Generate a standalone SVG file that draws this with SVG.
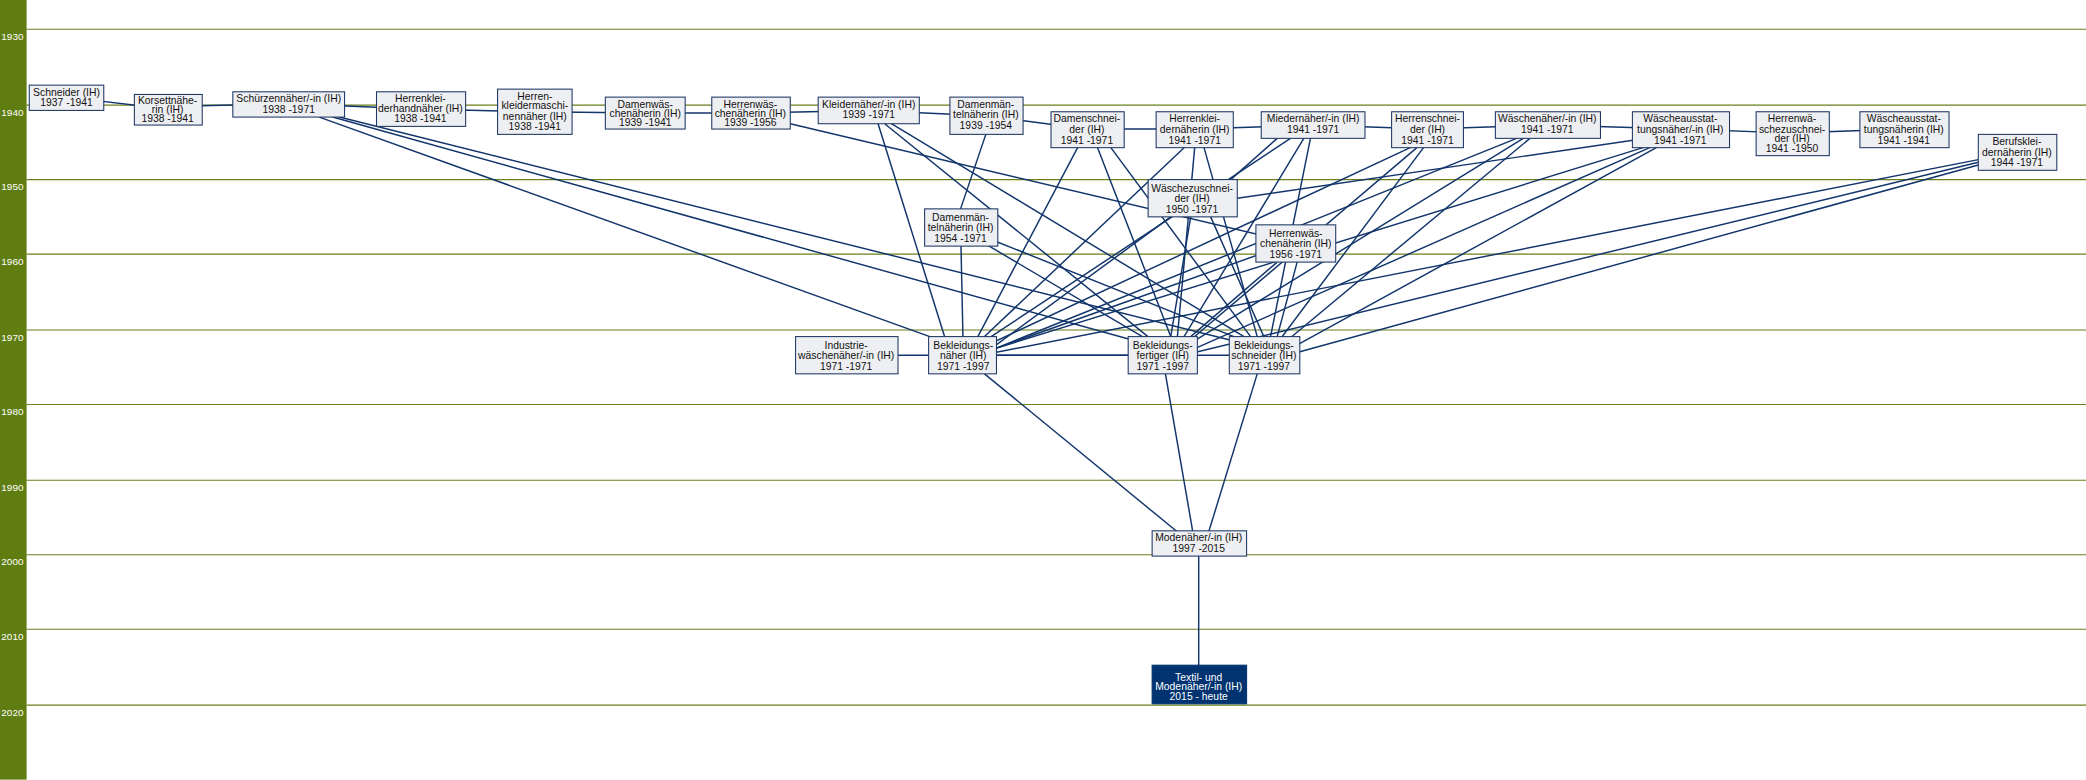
<svg xmlns="http://www.w3.org/2000/svg" width="2086" height="780" viewBox="0 0 2086 780">
<style>
.grid{stroke:#6b7f1a;stroke-width:0.8}
.yr{fill:#fff;font:7.5px "Liberation Sans",Arial,sans-serif}
.n rect{fill:#eeeff2;stroke:#1f3864;stroke-width:0.8}
.n text{fill:#111;font:7.8px "Liberation Sans",Arial,sans-serif;text-anchor:middle}
.d rect{fill:#003370;stroke:#003370}
.d text{fill:#fff}
#edges line{stroke:#12356b;stroke-width:1.1}
</style>
<rect width="2086" height="780" fill="#fff"/>
<g transform="scale(1.3304)">
<g id="axis">
<rect x="0" y="0" width="20" height="586" fill="#5f7d10"/>
<line class="grid" x1="20" y1="22" x2="1568" y2="22"/><line class="grid" x1="20" y1="79" x2="1568" y2="79"/>
<line class="grid" x1="20" y1="135" x2="1568" y2="135"/><line class="grid" x1="20" y1="191" x2="1568" y2="191"/>
<line class="grid" x1="20" y1="248" x2="1568" y2="248"/><line class="grid" x1="20" y1="304" x2="1568" y2="304"/>
<line class="grid" x1="20" y1="361" x2="1568" y2="361"/><line class="grid" x1="20" y1="417" x2="1568" y2="417"/>
<line class="grid" x1="20" y1="473" x2="1568" y2="473"/><line class="grid" x1="20" y1="530" x2="1568" y2="530"/>
<text class="yr" x="1" y="30">1930</text><text class="yr" x="1" y="87">1940</text><text class="yr" x="1" y="143">1950</text>
<text class="yr" x="1" y="199">1960</text><text class="yr" x="1" y="256">1970</text><text class="yr" x="1" y="312">1980</text>
<text class="yr" x="1" y="369">1990</text><text class="yr" x="1" y="425">2000</text><text class="yr" x="1" y="481">2010</text>
<text class="yr" x="1" y="538">2020</text>
</g>
<g id="edges">
<line x1="50" y1="73" x2="126" y2="82"/><line x1="126" y1="80" x2="217" y2="78"/><line x1="217" y1="78" x2="316" y2="82"/>
<line x1="316" y1="82" x2="402" y2="84"/><line x1="402" y1="84" x2="485" y2="85"/><line x1="485" y1="85" x2="564" y2="85"/>
<line x1="564" y1="85" x2="653" y2="83"/><line x1="653" y1="83" x2="741" y2="87"/><line x1="741" y1="87" x2="817" y2="97"/>
<line x1="817" y1="97" x2="898" y2="97"/><line x1="898" y1="97" x2="987" y2="94"/><line x1="987" y1="94" x2="1073" y2="97"/>
<line x1="1073" y1="97" x2="1163" y2="94"/><line x1="1163" y1="94" x2="1263" y2="97"/><line x1="1263" y1="97" x2="1347" y2="100"/>
<line x1="1347" y1="100" x2="1431" y2="97"/>
<line x1="240" y1="88" x2="724" y2="262"/><line x1="250" y1="88" x2="874" y2="262"/><line x1="255" y1="88" x2="950" y2="262"/>
<line x1="594" y1="93" x2="974" y2="183"/>
<line x1="660" y1="93" x2="710" y2="253"/><line x1="665" y1="93" x2="874" y2="262"/><line x1="670" y1="93" x2="950" y2="262"/>
<line x1="741" y1="101" x2="722" y2="157"/>
<line x1="722" y1="170" x2="724" y2="262"/><line x1="735" y1="180" x2="874" y2="262"/><line x1="745" y1="180" x2="950" y2="262"/>
<line x1="810" y1="111" x2="735" y2="253"/><line x1="825" y1="111" x2="880" y2="253"/><line x1="835" y1="111" x2="940" y2="253"/>
<line x1="890" y1="111" x2="740" y2="253"/><line x1="898" y1="111" x2="885" y2="253"/><line x1="905" y1="111" x2="945" y2="253"/>
<line x1="970" y1="104" x2="745" y2="253"/><line x1="980" y1="104" x2="890" y2="253"/><line x1="985" y1="104" x2="955" y2="253"/><line x1="960" y1="104" x2="925" y2="135"/>
<line x1="1060" y1="111" x2="745" y2="258"/><line x1="1065" y1="111" x2="892" y2="258"/><line x1="1070" y1="111" x2="960" y2="258"/>
<line x1="1140" y1="104" x2="748" y2="262"/><line x1="1145" y1="104" x2="895" y2="258"/><line x1="1150" y1="104" x2="965" y2="258"/>
<line x1="1235" y1="111" x2="748" y2="262"/><line x1="1240" y1="111" x2="898" y2="262"/><line x1="1245" y1="111" x2="970" y2="262"/><line x1="1230" y1="105" x2="930" y2="149"/>
<line x1="1487" y1="120" x2="748" y2="265"/><line x1="1487" y1="122" x2="898" y2="265"/><line x1="1487" y1="124" x2="975" y2="265"/>
<line x1="880" y1="163" x2="745" y2="262"/><line x1="895" y1="163" x2="880" y2="253"/><line x1="910" y1="163" x2="950" y2="253"/>
<line x1="950" y1="190" x2="748" y2="262"/><line x1="960" y1="197" x2="895" y2="253"/><line x1="975" y1="197" x2="960" y2="253"/>
<line x1="636" y1="267" x2="724" y2="267"/>
<line x1="724" y1="267" x2="874" y2="267"/><line x1="724" y1="267" x2="950" y2="267"/>
<line x1="740" y1="281" x2="895" y2="408"/><line x1="876" y1="281" x2="898" y2="408"/><line x1="945" y1="281" x2="906" y2="408"/>
<line x1="901" y1="408" x2="901" y2="514"/>
</g>
<g id="n1" class="n"><rect x="22" y="64" width="56" height="19"/><text x="50" y="72">Schneider (IH)</text><text x="50" y="80">1937 -1941</text></g>
<g id="n2" class="n"><rect x="101" y="71" width="51" height="23"/><text x="126" y="78">Korsettnähe-</text><text x="126" y="85">rin (IH)</text><text x="126" y="92">1938 -1941</text></g>
<g id="n3" class="n"><rect x="175" y="69" width="84" height="19"/><text x="217" y="77">Schürzennäher/-in (IH)</text><text x="217" y="85">1938 -1971</text></g>
<g id="n4" class="n"><rect x="283" y="69" width="67" height="26"/><text x="316" y="77">Herrenklei-</text><text x="316" y="84">derhandnäher (IH)</text><text x="316" y="92">1938 -1941</text></g>
<g id="n5" class="n"><rect x="374" y="67" width="56" height="34"/><text x="402" y="75">Herren-</text><text x="402" y="82">kleidermaschi-</text><text x="402" y="90">nennäher (IH)</text><text x="402" y="98">1938 -1941</text></g>
<g id="n6" class="n"><rect x="455" y="73" width="60" height="24"/><text x="485" y="81">Damenwäs-</text><text x="485" y="88">chenäherin (IH)</text><text x="485" y="95">1939 -1941</text></g>
<g id="n7" class="n"><rect x="535" y="73" width="59" height="24"/><text x="564" y="81">Herrenwäs-</text><text x="564" y="88">chenäherin (IH)</text><text x="564" y="95">1939 -1956</text></g>
<g id="n8" class="n"><rect x="615" y="73" width="76" height="20"/><text x="653" y="81">Kleidernäher/-in (IH)</text><text x="653" y="89">1939 -1971</text></g>
<g id="n9" class="n"><rect x="714" y="73" width="55" height="28"/><text x="741" y="81">Damenmän-</text><text x="741" y="89">telnäherin (IH)</text><text x="741" y="97">1939 -1954</text></g>
<g id="n10" class="n"><rect x="790" y="84" width="55" height="27"/><text x="817" y="92">Damenschnei-</text><text x="817" y="100">der (IH)</text><text x="817" y="108">1941 -1971</text></g>
<g id="n11" class="n"><rect x="869" y="84" width="58" height="27"/><text x="898" y="92">Herrenklei-</text><text x="898" y="100">dernäherin (IH)</text><text x="898" y="108">1941 -1971</text></g>
<g id="n12" class="n"><rect x="948" y="84" width="78" height="20"/><text x="987" y="92">Miedernäher/-in (IH)</text><text x="987" y="100">1941 -1971</text></g>
<g id="n13" class="n"><rect x="1046" y="84" width="54" height="27"/><text x="1073" y="92">Herrenschnei-</text><text x="1073" y="100">der (IH)</text><text x="1073" y="108">1941 -1971</text></g>
<g id="n14" class="n"><rect x="1124" y="84" width="79" height="20"/><text x="1163" y="92">Wäschenäher/-in (IH)</text><text x="1163" y="100">1941 -1971</text></g>
<g id="n15" class="n"><rect x="1227" y="84" width="73" height="27"/><text x="1263" y="92">Wäscheausstat-</text><text x="1263" y="100">tungsnäher/-in (IH)</text><text x="1263" y="108">1941 -1971</text></g>
<g id="n16" class="n"><rect x="1320" y="84" width="55" height="33"/><text x="1347" y="92">Herrenwä-</text><text x="1347" y="100">schezuschnei-</text><text x="1347" y="107">der (IH)</text><text x="1347" y="114">1941 -1950</text></g>
<g id="n17" class="n"><rect x="1398" y="84" width="67" height="27"/><text x="1431" y="92">Wäscheausstat-</text><text x="1431" y="100">tungsnäherin (IH)</text><text x="1431" y="108">1941 -1941</text></g>
<g id="n18" class="n"><rect x="1487" y="101" width="59" height="27"/><text x="1516" y="109">Berufsklei-</text><text x="1516" y="117">dernäherin (IH)</text><text x="1516" y="125">1944 -1971</text></g>
<g id="n19" class="n"><rect x="863" y="135" width="67" height="28"/><text x="896" y="144">Wäschezuschnei-</text><text x="896" y="152">der (IH)</text><text x="896" y="160">1950 -1971</text></g>
<g id="n20" class="n"><rect x="695" y="157" width="55" height="28"/><text x="722" y="166">Damenmän-</text><text x="722" y="174">telnäherin (IH)</text><text x="722" y="182">1954 -1971</text></g>
<g id="n21" class="n"><rect x="944" y="169" width="60" height="28"/><text x="974" y="178">Herrenwäs-</text><text x="974" y="186">chenäherin (IH)</text><text x="974" y="194">1956 -1971</text></g>
<g id="n22" class="n"><rect x="598" y="253" width="77" height="28"/><text x="636" y="262">Industrie-</text><text x="636" y="270">wäschenäher/-in (IH)</text><text x="636" y="278">1971 -1971</text></g>
<g id="n23" class="n"><rect x="698" y="253" width="51" height="28"/><text x="724" y="262">Bekleidungs-</text><text x="724" y="270">näher (IH)</text><text x="724" y="278">1971 -1997</text></g>
<g id="n24" class="n"><rect x="848" y="253" width="52" height="28"/><text x="874" y="262">Bekleidungs-</text><text x="874" y="270">fertiger (IH)</text><text x="874" y="278">1971 -1997</text></g>
<g id="n25" class="n"><rect x="924" y="253" width="53" height="28"/><text x="950" y="262">Bekleidungs-</text><text x="950" y="270">schneider (IH)</text><text x="950" y="278">1971 -1997</text></g>
<g id="n26" class="n"><rect x="866" y="399" width="71" height="19"/><text x="901" y="407">Modenäher/-in (IH)</text><text x="901" y="415">1997 -2015</text></g>
<g id="n27" class="n d"><rect x="866" y="500" width="71" height="29"/><text x="901" y="512">Textil- und</text><text x="901" y="519">Modenäher/-in (IH)</text><text x="901" y="526">2015 - heute</text></g>
</g>
</svg>
